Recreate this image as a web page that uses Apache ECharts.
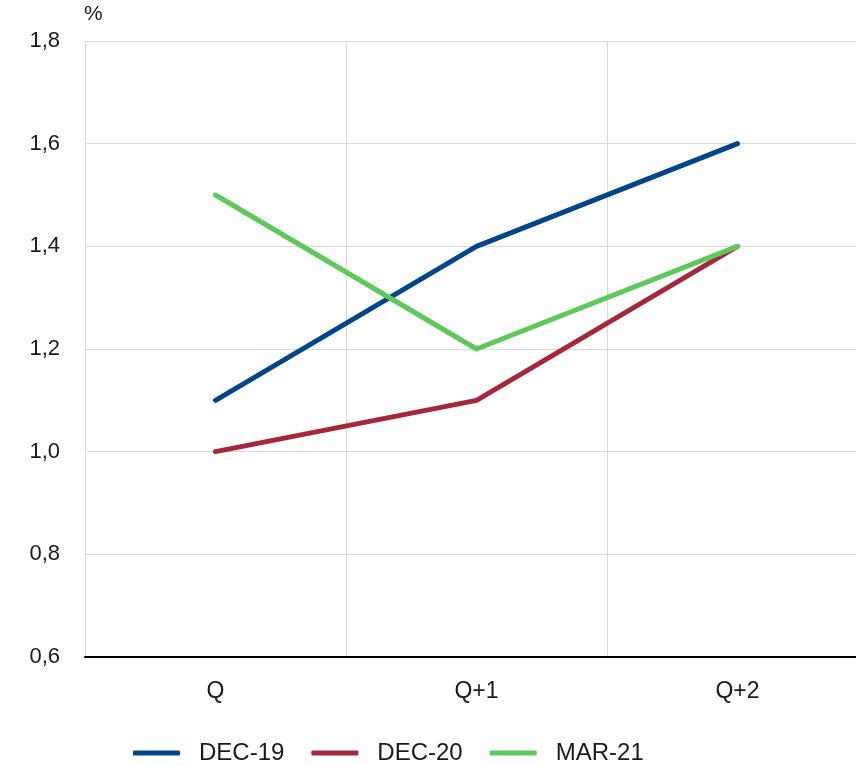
<!DOCTYPE html>
<html>
<head>
<meta charset="utf-8">
<script src="https://cdn.jsdelivr.net/npm/echarts@6/dist/echarts.min.js"></script>
<style>
  html, body { margin: 0; padding: 0; background: #fff; overflow: hidden; }
  /* canvas is a bit wider than the window so the last category band runs off the right edge */
  #chart { width: 868px; height: 766px; }
</style>
</head>
<body>
<div id="chart"></div>
<script>
// Horizons and forecast vintages
const categories = ['Q', 'Q+1', 'Q+2'];
const dec19 = [1.1, 1.4, 1.6];
const dec20 = [1.0, 1.1, 1.4];
const mar21 = [1.5, 1.2, 1.4];
const seriesNames = ['DEC-19', 'DEC-20', 'MAR-21'];
const seriesColors = ['#00458a', '#a4283a', '#5dc95b'];

const FONT = 'Liberation Sans, Arial, sans-serif';
const TEXT = '#1a1a1a';

const chart = echarts.init(document.getElementById('chart'), null, { renderer: 'canvas' });

const makeSeries = (name, data, color) => ({
  name: name,
  type: 'line',
  data: data,
  symbol: 'none',
  lineStyle: { color: color, width: 5, cap: 'round', join: 'round' },
  itemStyle: { color: color },
  animation: false
});

chart.setOption({
  animation: false,
  grid: { left: 85, right: 0, top: 41, bottom: 109, containLabel: false },
  legend: {
    top: 736,
    left: 128,
    itemWidth: 47,
    itemHeight: 5,
    itemGap: 27,
    icon: 'roundRect',
    textStyle: { fontFamily: FONT, fontSize: 24, color: TEXT, padding: [0, 0, 0, 14] },
    data: seriesNames
  },
  xAxis: {
    type: 'category',
    data: categories,
    boundaryGap: true,
    axisLine: { show: true, lineStyle: { color: '#000', width: 2 } },
    axisTick: { show: false },
    axisLabel: { fontFamily: FONT, fontSize: 23, color: TEXT, margin: 23 },
    splitLine: { show: true, lineStyle: { color: '#d9d9d9', width: 1 } }
  },
  yAxis: {
    type: 'value',
    min: 0.6,
    max: 1.8,
    interval: 0.2,
    name: '%',
    nameLocation: 'end',
    nameGap: 16,
    nameTextStyle: { fontFamily: FONT, fontSize: 21, color: TEXT, align: 'left', padding: [0, 0, 0, -1] },
    axisLine: { show: false },
    axisTick: { show: false },
    axisLabel: {
      fontFamily: FONT, fontSize: 22, color: TEXT, margin: 25,
      formatter: v => v.toFixed(1).replace('.', ',')
    },
    splitLine: { show: true, lineStyle: { color: '#d9d9d9', width: 1 } }
  },
  series: [
    makeSeries(seriesNames[0], dec19, seriesColors[0]),
    makeSeries(seriesNames[1], dec20, seriesColors[1]),
    makeSeries(seriesNames[2], mar21, seriesColors[2])
  ]
});
</script>
</body>
</html>
